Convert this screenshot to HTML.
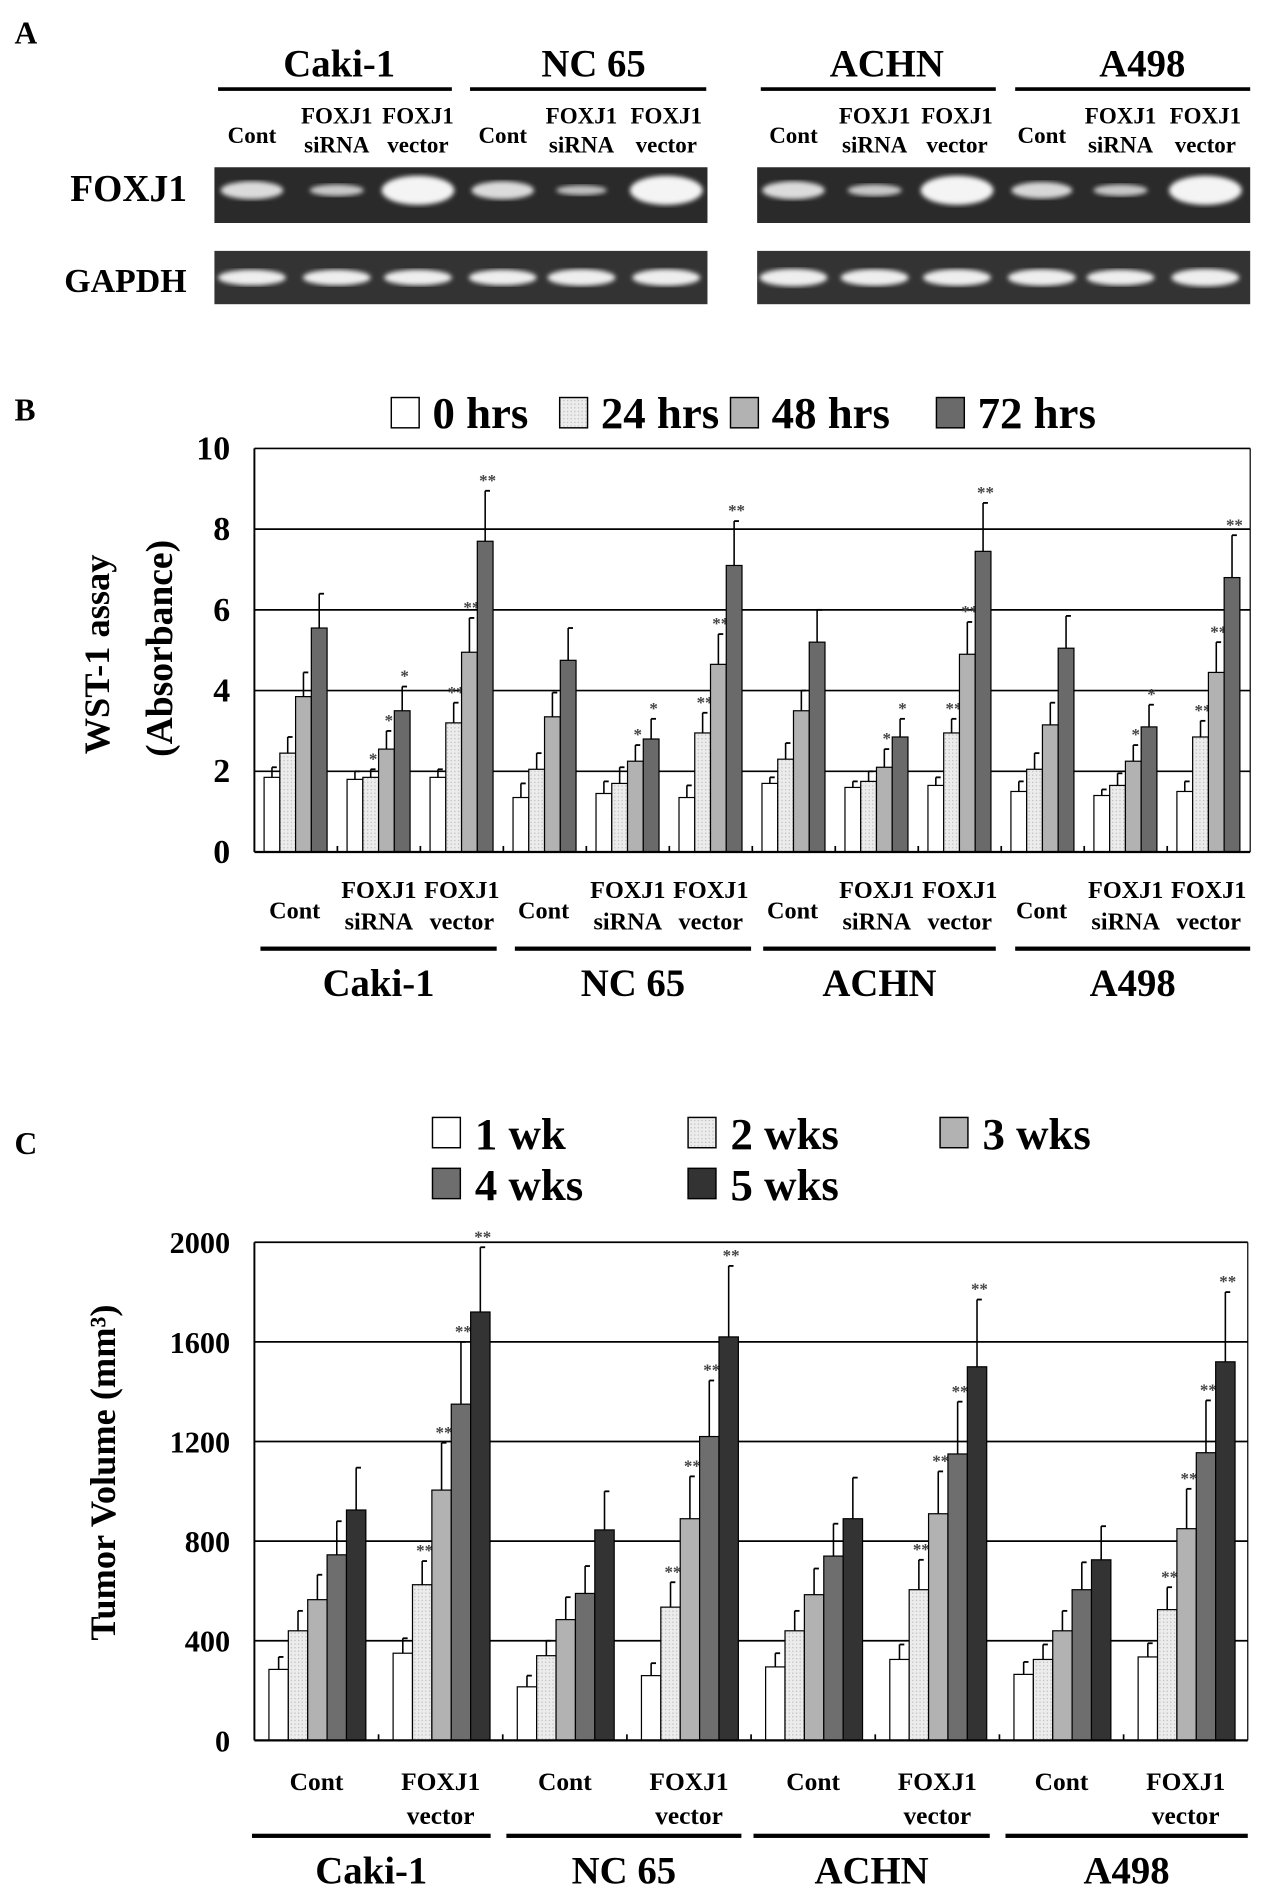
<!DOCTYPE html>
<html><head><meta charset="utf-8"><style>
html,body{margin:0;padding:0;background:#fff}
svg{display:block;font-family:"Liberation Serif",serif;font-weight:bold}
</style></head><body>
<svg id="fig" width="1272" height="1904" viewBox="0 0 1050 1571" preserveAspectRatio="none" xmlns="http://www.w3.org/2000/svg">
<defs>
<pattern id="dots" width="3" height="3" patternUnits="userSpaceOnUse"><rect width="3" height="3" fill="#ececec"/><rect width="1" height="1" fill="#bbb"/></pattern>
<filter id="blur"><feGaussianBlur stdDeviation="2"/></filter>
</defs>
<g id="panelA"></g>
<g id="panelB"></g>
<g id="panelC"></g>
</svg>
<script>
// ---------- data ----------
const cellLines = ["Caki-1","NC 65","ACHN","A498"];
const bTreatments = ["Cont","FOXJ1 siRNA","FOXJ1 vector"];
const bSeries = ["0 hrs","24 hrs","48 hrs","72 hrs"];
const bTicks = [0,2,4,6,8,10];
const bValues = [
 [1.85,2.45,3.85,5.55],[1.8,1.85,2.55,3.5],[1.85,3.2,4.95,7.7],
 [1.35,2.05,3.35,4.75],[1.45,1.7,2.25,2.8],[1.35,2.95,4.65,7.1],
 [1.7,2.3,3.5,5.2],[1.6,1.75,2.1,2.85],[1.65,2.95,4.9,7.45],
 [1.5,2.05,3.15,5.05],[1.4,1.65,2.25,3.1],[1.5,2.85,4.45,6.8]];
const bErrTop = [
 [2.1,2.85,4.45,6.4],[2.0,2.05,3.0,4.1],[2.05,3.7,5.8,8.95],
 [1.7,2.45,3.95,5.55],[1.75,2.1,2.65,3.3],[1.65,3.45,5.4,8.2],
 [1.85,2.7,4.0,6.0],[1.75,2.0,2.55,3.3],[1.85,3.3,5.7,8.65],
 [1.75,2.45,3.7,5.85],[1.55,1.95,2.65,3.65],[1.75,3.25,5.2,7.85]];
const bStars = [
 ["","","",""],["","*","*","*"],["","**","**","**"],
 ["","","",""],["","","*","*"],["","**","**","**"],
 ["","","",""],["","","*","*"],["","**","**","**"],
 ["","","",""],["","","*","*"],["","**","**","**"]];
const cTreatments = ["Cont","FOXJ1 vector"];
const cSeries = ["1 wk","2 wks","3 wks","4 wks","5 wks"];
const cTicks = [0,400,800,1200,1600,2000];
const cValues = [
 [285,440,565,745,925],[350,625,1005,1350,1720],
 [215,340,485,590,845],[260,535,890,1220,1620],
 [295,440,585,740,890],[325,605,910,1150,1500],
 [265,325,440,605,725],[335,525,850,1155,1520]];
const cErrTop = [
 [335,520,665,880,1095],[410,720,1195,1600,1980],
 [260,400,575,700,1000],[310,635,1060,1445,1905],
 [350,520,690,870,1055],[385,725,1080,1360,1770],
 [315,385,520,715,860],[390,615,1010,1365,1800]];
const cStars = [
 ["","","","",""],["","**","**","**","**"],
 ["","","","",""],["","**","**","**","**"],
 ["","","","",""],["","**","**","**","**"],
 ["","","","",""],["","**","**","**","**"]];
const blotFoxj1 = [0.7,0.45,1.0, 0.7,0.35,1.0, 0.7,0.45,1.0, 0.65,0.45,1.0];
const blotGapdh = [0.8,0.8,0.8, 0.8,0.85,0.85, 0.9,0.85,0.85, 0.85,0.8,0.9];

const NS="http://www.w3.org/2000/svg";
function mk(parent,tag,attrs,text){const e=document.createElementNS(NS,tag);for(const k in attrs)e.setAttribute(k,attrs[k]);if(text!==undefined)e.textContent=text;parent.appendChild(e);return e;}

// ---------- Panel A ----------
const A=document.getElementById('panelA');
let t=mk(A,'text',{x:12,y:36,'font-size':26},'A');


const blocks=[{x0:177,x1:584},{x0:625,x1:1032}];
const laneX=[208,278,345,415,480,550,655,722,790,860,925,995];
const headX=[280,490,732,943];
const headLines=[[180,373],[388,583],[628,822],[838,1032]];
cellLines.forEach((c,i)=>{
 let h=mk(A,'text',{x:headX[i],y:63,'font-size':32,'text-anchor':'middle'},c);
 
 
 mk(A,'rect',{x:headLines[i][0],y:72,width:headLines[i][1]-headLines[i][0],height:3,fill:'#000'});
});
laneX.forEach((x,i)=>{
 const k=i%3;
 if(k===0){mk(A,'text',{x:x,y:118,'font-size':19,'text-anchor':'middle'},'Cont');}
 else{mk(A,'text',{x:x,y:102,'font-size':19,'text-anchor':'middle'},'FOXJ1');
      mk(A,'text',{x:x,y:126,'font-size':19,'text-anchor':'middle'},k===1?'siRNA':'vector');}
});
let fl=mk(A,'text',{x:58,y:166,'font-size':31},'FOXJ1');


let gl=mk(A,'text',{x:53,y:241,'font-size':28},'GAPDH');


blocks.forEach(b=>{
 let r1=mk(A,'rect',{x:b.x0,y:138,width:b.x1-b.x0,height:46,fill:'#2a2a2a'});
 
 
 let r2=mk(A,'rect',{x:b.x0,y:207,width:b.x1-b.x0,height:44,fill:'#333'});
 
 
});
laneX.forEach((x,i)=>{
 const f=blotFoxj1[i];
 mk(A,'ellipse',{cx:x,cy:157,rx:16+14*f,ry:3+9*f*f,fill:'#f4f4f4',opacity:0.6+0.4*f,filter:'url(#blur)'});
 const g=blotGapdh[i];
 mk(A,'ellipse',{cx:x,cy:229,rx:28,ry:8*g,fill:'#eee',filter:'url(#blur)'});
});

// ---------- generic bar chart ----------
function barChart(G,o){
 const yS=v=>o.y0-(v-o.tmin)/(o.tmax-o.tmin)*(o.y0-o.y1);
 const n=o.values.length, gw=(o.x1-o.x0)/n;
 o.ticks.forEach(v=>{
  if(v>o.tmin){let gl=mk(G,'line',{x1:o.x0,x2:o.x1,y1:yS(v),y2:yS(v),stroke:'#000','stroke-width':1.4});
   
   }
  let tl=mk(G,'text',{x:o.x0-20,y:yS(v)+9,'font-size':o.tickFont,'text-anchor':'end'},String(v));
  
  
 });
 mk(G,'line',{x1:o.x0,x2:o.x0,y1:o.y1,y2:o.y0,stroke:'#000','stroke-width':1.6});
 mk(G,'line',{x1:o.x1,x2:o.x1,y1:o.y1,y2:o.y0,stroke:'#000','stroke-width':1});
 for(let g=1;g<n;g++){mk(G,'line',{x1:o.x0+g*gw,x2:o.x0+g*gw,y1:o.y0,y2:o.y0-5,stroke:'#000','stroke-width':1.4});}
 o.values.forEach((arr,g)=>{
  arr.forEach((v,s)=>{
   const bx=o.x0+g*gw+o.pad+s*o.bw, top=yS(v), et=yS(o.err[g][s]);
   mk(G,'line',{x1:bx+o.bw/2,x2:bx+o.bw/2,y1:top,y2:et,stroke:'#000','stroke-width':1.3});
   mk(G,'line',{x1:bx+o.bw/2,x2:bx+o.bw/2+4,y1:et,y2:et,stroke:'#000','stroke-width':1.5});
   let r=mk(G,'rect',{x:bx,y:top,width:o.bw,height:o.y0-top,fill:o.colors[s],stroke:'#000','stroke-width':1});
   
   
   const st=o.stars[g][s];
   if(st){let sx=mk(G,'text',{x:bx+o.bw/2+2,y:et-4,'font-size':14,'text-anchor':'middle',fill:'#444'},st);
    
    }
  });
 });
 mk(G,'line',{x1:o.x0,x2:o.x1,y1:o.y0,y2:o.y0,stroke:'#000','stroke-width':1.8});
 return {gw};
}

// ---------- Panel B ----------
const B=document.getElementById('panelB');
t=mk(B,'text',{x:12,y:347,'font-size':26},'B');


const bColors=['#fff','url(#dots)','#b2b2b2','#6a6a6a'];
const bLegX=[323,462,603,773];
bSeries.forEach((s,i)=>{
 let sw=mk(B,'rect',{x:bLegX[i],y:328,width:23,height:25,fill:bColors[i],stroke:'#000','stroke-width':1.2});
 
 
 let lt=mk(B,'text',{x:bLegX[i]+34,y:353,'font-size':37},s);
 
 
});
const rb=barChart(B,{x0:210,x1:1032,y0:703,y1:370,tmin:0,tmax:10,ticks:bTicks,tickFont:28,values:bValues,err:bErrTop,stars:bStars,colors:bColors,seriesNames:bSeries,pad:8,bw:13});
let yb=mk(B,'text',{transform:'translate(90,540) rotate(-90)','font-size':30,'text-anchor':'middle'},'WST-1 assay');


mk(B,'text',{transform:'translate(142,535) rotate(-90)','font-size':31,'text-anchor':'middle'},'(Absorbance)');
bValues.forEach((_,g)=>{
 const cx=210+(g+0.5)*rb.gw+(g%3===0?-1:0), k=g%3;
 if(k===0){mk(B,'text',{x:cx,y:758,'font-size':20,'text-anchor':'middle'},'Cont');}
 else{mk(B,'text',{x:cx,y:741,'font-size':20,'text-anchor':'middle'},'FOXJ1');
      mk(B,'text',{x:cx,y:767,'font-size':20,'text-anchor':'middle'},k===1?'siRNA':'vector');}
});
const bLines=[[215,410],[425,620],[630,822],[838,1032]];
cellLines.forEach((c,i)=>{
 mk(B,'rect',{x:bLines[i][0],y:781,width:bLines[i][1]-bLines[i][0],height:3.5,fill:'#000'});
 let cl=mk(B,'text',{x:(bLines[i][0]+bLines[i][1])/2,y:822,'font-size':32,'text-anchor':'middle'},c);
 
 
});

// ---------- Panel C ----------
const C=document.getElementById('panelC');
t=mk(C,'text',{x:12,y:952,'font-size':26},'C');


const cColors=['#fff','url(#dots)','#b2b2b2','#6e6e6e','#333'];
const cLegPos=[[357,945],[568,945],[776,945],[357,987],[568,987]];
cSeries.forEach((s,i)=>{
 let sw=mk(C,'rect',{x:cLegPos[i][0],y:cLegPos[i][1]-23,width:23,height:25,fill:cColors[i],stroke:'#000','stroke-width':1.2});
 
 
 let lt=mk(C,'text',{x:cLegPos[i][0]+35,y:cLegPos[i][1]+3,'font-size':37},s);
 
 
});
const rc=barChart(C,{x0:210,x1:1030,y0:1436,y1:1025,tmin:0,tmax:2000,ticks:cTicks,tickFont:25,values:cValues,err:cErrTop,stars:cStars,colors:cColors,seriesNames:cSeries,pad:12,bw:16});
let yc=mk(C,'text',{transform:'translate(95,1215) rotate(-90)','font-size':30,'text-anchor':'middle'},'Tumor Volume (mm³)');


cValues.forEach((_,g)=>{
 const cx=210+(g+0.5)*rc.gw;
 if(g%2===0){mk(C,'text',{x:cx,y:1477,'font-size':21,'text-anchor':'middle'},'Cont');}
 else{mk(C,'text',{x:cx,y:1477,'font-size':21,'text-anchor':'middle'},'FOXJ1');
      mk(C,'text',{x:cx,y:1505,'font-size':21,'text-anchor':'middle'},'vector');}
});
const cLines=[[208,405],[418,612],[622,817],[830,1030]];
cellLines.forEach((c,i)=>{
 mk(C,'rect',{x:cLines[i][0],y:1513,width:cLines[i][1]-cLines[i][0],height:3.5,fill:'#000'});
 let cl=mk(C,'text',{x:(cLines[i][0]+cLines[i][1])/2,y:1554,'font-size':32,'text-anchor':'middle'},c);
 
 
});
</script>
</body></html>
